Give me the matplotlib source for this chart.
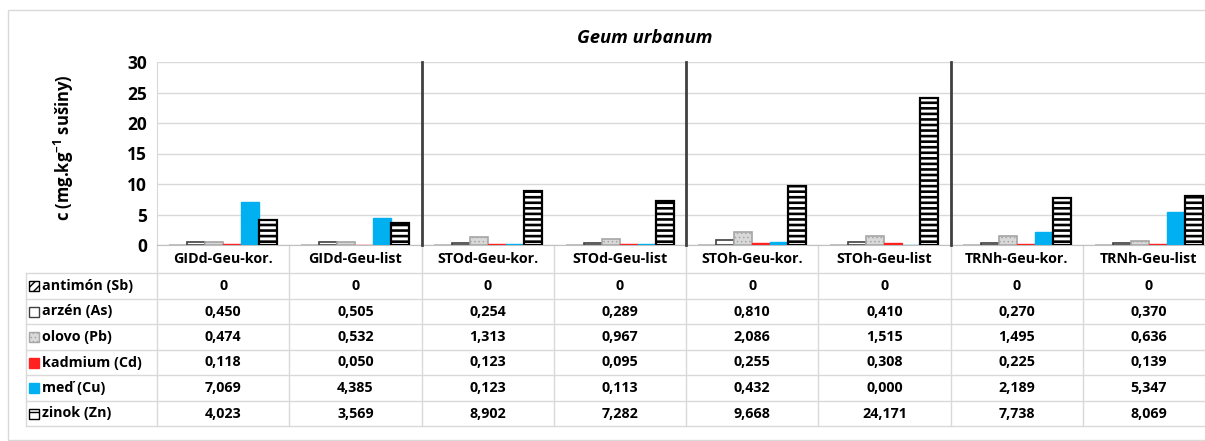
"""
Geum urbanum - heavy metal content chart with data table.
"""

import matplotlib
matplotlib.use("Agg")

import matplotlib.pyplot as plt
import numpy as np
from matplotlib.patches import Rectangle
from matplotlib.transforms import blended_transform_factory


categories = [
    "GIDd-Geu-kor.", "GIDd-Geu-list",
    "STOd-Geu-kor.", "STOd-Geu-list",
    "STOh-Geu-kor.", "STOh-Geu-list",
    "TRNh-Geu-kor.", "TRNh-Geu-list",
]

series_names = [
    "antimón (Sb)",
    "arzén (As)",
    "olovo (Pb)",
    "kadmium (Cd)",
    "meď (Cu)",
    "zinok (Zn)",
]

sb = [0, 0, 0, 0, 0, 0, 0, 0]
as_ = [0.450, 0.505, 0.254, 0.289, 0.810, 0.410, 0.270, 0.370]
pb = [0.474, 0.532, 1.313, 0.967, 2.086, 1.515, 1.495, 0.636]
cd = [0.118, 0.050, 0.123, 0.095, 0.255, 0.308, 0.225, 0.139]
cu = [7.069, 4.385, 0.123, 0.113, 0.432, 0.000, 2.189, 5.347]
zn = [4.023, 3.569, 8.902, 7.282, 9.668, 24.171, 7.738, 8.069]

table_labels = [
    ["0"] * 8,
    ["0,450", "0,505", "0,254", "0,289", "0,810", "0,410", "0,270", "0,370"],
    ["0,474", "0,532", "1,313", "0,967", "2,086", "1,515", "1,495", "0,636"],
    ["0,118", "0,050", "0,123", "0,095", "0,255", "0,308", "0,225", "0,139"],
    ["7,069", "4,385", "0,123", "0,113", "0,432", "0,000", "2,189", "5,347"],
    ["4,023", "3,569", "8,902", "7,282", "9,668", "24,171", "7,738", "8,069"],
]

y_ticks = [0, 5, 10, 15, 20, 25, 30]

# bar styles: (face, edge, hatch, hatch linewidth, edge linewidth)
styles = [
    ("white", "black", "//////", 1.0, 0.3),
    ("white", "#404040", None, 1.0, 1.2),
    ("#d9d9d9", "#a6a6a6", "....", 0.6, 1.2),
    ("#ff2020", "#ff2020", None, 1.0, 1.0),
    ("#00b0f0", "#00b0f0", None, 1.0, 1.0),
    ("white", "black", "---", 1.9, 1.6),
]

W, H = 1205, 441

plt.rcParams["font.family"] = ["Open Sans", "DejaVu Sans"]
plt.rcParams["font.weight"] = "bold"
plt.rcParams["mathtext.fontset"] = "custom"
plt.rcParams["mathtext.rm"] = "Open Sans:bold"
plt.rcParams["mathtext.bf"] = "Open Sans:bold"

FS = 10.3


def fx(px):
    return px / W


def fy(py):
    return 1 - py / H


def make_bar(ax, x, h, w, style):
    face, edge, hatch, hlw, elw = style
    with plt.rc_context({"hatch.linewidth": hlw}):
        ax.bar(
            x, h, width=w,
            color=face,
            edgecolor=edge,
            hatch=hatch,
            linewidth=elw,
            zorder=3,
        )


def main():

    fig = plt.figure(figsize=(W / 100, H / 100), dpi=100)

    # outer chart frame
    fig.patches.append(
        Rectangle(
            (fx(8), fy(440)), fx(1400), fy(10) - fy(440),
            transform=fig.transFigure,
            facecolor="none",
            edgecolor="#d9d9d9",
            linewidth=1.0,
            zorder=0,
        )
    )

    left, right, top, bottom = 157, 1215, 62, 245
    ax = fig.add_axes([
        fx(left), fy(bottom),
        fx(right - left), fy(top) - fy(bottom),
    ])
    ax.set_facecolor("none")

    x = np.arange(len(categories))
    n = len(series_names)
    w = 0.136
    data = [sb, as_, pb, cd, cu, zn]

    for i, vals in enumerate(data):
        make_bar(ax, x + (i - (n - 1) / 2) * w, vals, w, styles[i])

    ax.set_xlim(-0.5, len(categories) - 0.5)
    ax.set_ylim(0, 30)
    ax.set_yticks(y_ticks)
    ax.set_yticklabels([str(t) for t in y_ticks], fontsize=12.5,
                       fontweight="bold")
    ax.tick_params(axis="y", length=0, pad=7)
    ax.set_xticks([])

    ax.grid(axis="y", color="#d9d9d9", linewidth=1.0, zorder=0)
    for s in ["top", "right"]:
        ax.spines[s].set_visible(False)
    ax.spines["left"].set_color("#d9d9d9")
    ax.spines["bottom"].set_color("#bfbfbf")

    # group separators
    for xs in [1.5, 3.5, 5.5]:
        ax.plot([xs, xs], [0, 30], color="#404040", linewidth=2.0,
                zorder=4, clip_on=False)

    ax.set_ylabel("c (mg.kg$^{-1}$ sušiny)", fontsize=12,
                  fontweight="bold")
    ax.yaxis.set_label_coords(fx(76 - left) / fx(right - left), 0.53)

    fig.text(fx(645), fy(38), "Geum urbanum", ha="center", va="center",
             fontsize=13.3, fontweight="bold", style="italic")

    # data table
    tr = blended_transform_factory(ax.transData, fig.transFigure)
    grid_c = "#d9d9d9"
    row_lines = [273, 299, 324, 350, 375, 401, 426]
    for py in row_lines:
        fig.add_artist(plt.Line2D([fx(26), fx(1205)], [fy(py), fy(py)],
                                  color=grid_c, linewidth=1.0))
    fig.add_artist(plt.Line2D([fx(26), fx(26)], [fy(273), fy(426)],
                              color=grid_c, linewidth=1.0))
    for xb in np.arange(-0.5, len(categories) + 0.5):
        ax.plot([xb, xb], [fy(bottom), fy(426)], color=grid_c,
                linewidth=1.0, transform=tr, clip_on=False)

    for j, cat in enumerate(categories):
        ax.text(j, fy(259), cat, transform=tr, ha="center", va="center",
                fontsize=FS, fontweight="bold")

    for r, name in enumerate(series_names):
        yc = (row_lines[r] + row_lines[r + 1]) / 2
        face, edge, hatch, hlw, elw = styles[r]
        with plt.rc_context({"hatch.linewidth": min(hlw, 1.0)}):
            fig.patches.append(
                Rectangle(
                    (fx(29), fy(yc + 5)), fx(10), fy(yc - 5) - fy(yc + 5),
                    transform=fig.transFigure,
                    facecolor=face,
                    edgecolor="black" if r in (0, 5) else edge,
                    hatch="////" if r == 0 else ("--" if r == 5 else hatch),
                    linewidth=1.0,
                    zorder=5,
                )
            )
        fig.text(fx(42), fy(yc), name, ha="left", va="center",
                 fontsize=FS, fontweight="bold")
        for j, lab in enumerate(table_labels[r]):
            ax.text(j, fy(yc), lab, transform=tr, ha="center",
                    va="center", fontsize=FS, fontweight="bold")

    fig.savefig("out.png", dpi=100)


if __name__ == "__main__":

    main()
